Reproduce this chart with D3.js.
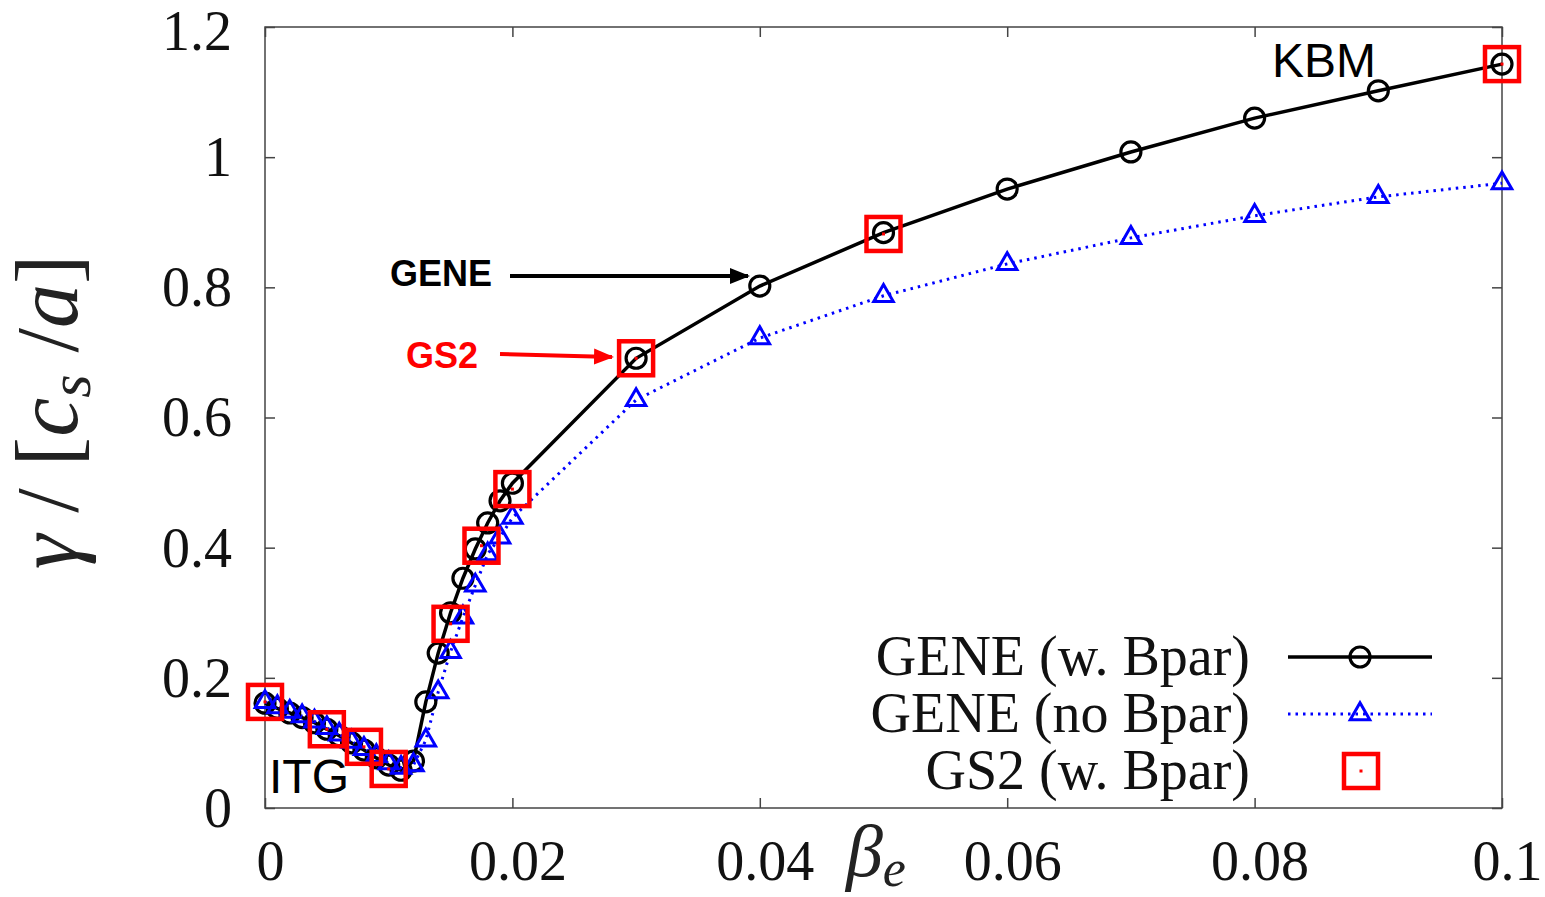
<!DOCTYPE html>
<html><head><meta charset="utf-8">
<script src="https://cdn.jsdelivr.net/npm/d3@7"></script>
<style>body{margin:0;background:#fff}svg{display:block}</style>
</head><body>
<script>
// ---- data ----
const betaGene = [0,0.001,0.002,0.003,0.004,0.005,0.006,0.007,0.008,0.009,0.010,0.011,0.012,0.013,0.014,0.015,0.016,0.017,0.018,0.019,0.020,0.03,0.04,0.05,0.06,0.07,0.08,0.09,0.1];
const gammaBpar = [0.161,0.153,0.146,0.139,0.131,0.121,0.111,0.100,0.089,0.077,0.066,0.058,0.072,0.163,0.238,0.300,0.353,0.398,0.438,0.472,0.499,0.691,0.802,0.884,0.951,1.008,1.060,1.102,1.143];
const gammaNoBpar = [0.163,0.155,0.148,0.141,0.133,0.123,0.113,0.102,0.091,0.080,0.069,0.062,0.066,0.104,0.178,0.240,0.293,0.342,0.390,0.416,0.446,0.627,0.722,0.787,0.836,0.876,0.910,0.939,0.960];
const betaGS2 = [0,0.005,0.008,0.010,0.015,0.0175,0.020,0.03,0.05,0.1];
const gammaGS2 = [0.163,0.121,0.094,0.060,0.283,0.403,0.490,0.691,0.882,1.143];
const xTicks = [0,0.02,0.04,0.06,0.08,0.1];
const xTickLabels = ["0","0.02","0.04","0.06","0.08","0.1"];
const yTicks = [0,0.2,0.4,0.6,0.8,1.0,1.2];
const yTickLabels = ["0","0.2","0.4","0.6","0.8","1","1.2"];
const legendLabels = ["GENE (w. Bpar)","GENE (no Bpar)","GS2 (w. Bpar)"];

const W=1545,H=897;
const L=265,R=1502,T=27,B=808;
const x=d3.scaleLinear().domain([0,0.1]).range([L,R]);
const y=d3.scaleLinear().domain([0,1.2]).range([B,T]);
const serif='"Liberation Serif","Times New Roman",serif';
const sans='"Liberation Sans",Arial,sans-serif';

const svg=d3.select("body").append("svg").attr("width",W).attr("height",H);
svg.append("defs").html(
 '<marker id="ab" viewBox="0 0 10 10" refX="9" refY="5" markerWidth="5" markerHeight="5" orient="auto"><path d="M0,1L10,5L0,9Z" fill="#000"/></marker>'+
 '<marker id="ar" viewBox="0 0 10 10" refX="9" refY="5" markerWidth="5" markerHeight="5" orient="auto"><path d="M0,1L10,5L0,9Z" fill="#f00"/></marker>');

// frame
svg.append("rect").attr("x",L).attr("y",T).attr("width",R-L).attr("height",B-T)
 .attr("fill","none").attr("stroke","#444").attr("stroke-width",1.5);

// axes (inward ticks, mirrored)
const gx=svg.append("g").attr("transform",`translate(0,${B})`)
 .call(d3.axisBottom(x).tickValues(xTicks).tickSize(-10).tickPadding(38).tickFormat((d,i)=>xTickLabels[i]));
const gx2=svg.append("g").attr("transform",`translate(0,${T})`)
 .call(d3.axisTop(x).tickValues(xTicks).tickSize(-10).tickFormat(""));
const gy=svg.append("g").attr("transform",`translate(${L},0)`)
 .call(d3.axisLeft(y).tickValues(yTicks).tickSize(-10).tickPadding(33).tickFormat((d,i)=>yTickLabels[i]));
const gy2=svg.append("g").attr("transform",`translate(${R},0)`)
 .call(d3.axisRight(y).tickValues(yTicks).tickSize(-10).tickFormat(""));
[gx,gx2,gy,gy2].forEach(g=>{g.select(".domain").remove();g.selectAll("line").attr("stroke","#444").attr("stroke-width",1.5);});
[gx,gy].forEach(g=>g.selectAll("text").attr("font-family",serif).attr("font-size",56).attr("fill","#111"));
gx.selectAll("text").attr("dy","0.6em").attr("dx",5);
gy.selectAll("text").attr("dy","0.33em");
gy.selectAll("text").filter(d=>d===1.2).attr("dy","0.4em");

// lines
const ptsB=betaGene.map((b,i)=>[b,gammaBpar[i]]);
const ptsN=betaGene.map((b,i)=>[b,gammaNoBpar[i]]);
const ptsG=betaGS2.map((b,i)=>[b,gammaGS2[i]]);
const line=d3.line().x(d=>x(d[0])).y(d=>y(d[1]));
svg.append("path").attr("d",line(ptsB)).attr("fill","none").attr("stroke","#000").attr("stroke-width",3.5);
svg.append("path").attr("d",line(ptsN)).attr("fill","none").attr("stroke","#0000ff").attr("stroke-width",3).attr("stroke-dasharray","2.5,5");

const tri=d3.symbol().type(d3.symbolTriangle).size(165);
function circ(g,cx,cy){g.append("circle").attr("cx",cx).attr("cy",cy).attr("r",10).attr("fill","none").attr("stroke","#000").attr("stroke-width",3.2);}
function triM(g,cx,cy){g.append("path").attr("d",tri()).attr("transform",`translate(${cx},${cy})`).attr("fill","none").attr("stroke","#0000ff").attr("stroke-width",3);}
function sq(g,cx,cy){g.append("rect").attr("x",cx-17).attr("y",cy-17).attr("width",34).attr("height",34).attr("fill","none").attr("stroke","#f00").attr("stroke-width",4.5);
 g.append("rect").attr("x",cx-1.5).attr("y",cy-1.5).attr("width",3).attr("height",3).attr("fill","#f00");}

const gm=svg.append("g");
ptsB.forEach(d=>circ(gm,x(d[0]),y(d[1])));
ptsN.forEach(d=>triM(gm,x(d[0]),y(d[1])));
ptsG.forEach(d=>sq(gm,x(d[0]),y(d[1])));

// legend
const lg=svg.append("g");
const rows=[657,714,771];
legendLabels.forEach((t,i)=>{
 lg.append("text").attr("x",1250).attr("y",rows[i]).attr("dy","0.33em").attr("text-anchor","end")
  .attr("font-family",serif).attr("font-size",56).attr("fill","#111").text(t);
});
lg.append("line").attr("x1",1288).attr("x2",1432).attr("y1",rows[0]).attr("y2",rows[0]).attr("stroke","#000").attr("stroke-width",3.5);
circ(lg,1360,rows[0]);
lg.append("line").attr("x1",1288).attr("x2",1432).attr("y1",rows[1]).attr("y2",rows[1]).attr("stroke","#0000ff").attr("stroke-width",3).attr("stroke-dasharray","2.5,5");
triM(lg,1360,rows[1]);
sq(lg,1361,rows[2]);

// annotations
svg.append("text").attr("x",390).attr("y",273).attr("dy","0.35em").attr("font-family",sans).attr("font-weight","bold").attr("font-size",36).text("GENE");
svg.append("line").attr("x1",510).attr("y1",276).attr("x2",748).attr("y2",276).attr("stroke","#000").attr("stroke-width",4).attr("marker-end","url(#ab)");
svg.append("text").attr("x",406).attr("y",355).attr("dy","0.35em").attr("font-family",sans).attr("font-weight","bold").attr("font-size",36).attr("fill","#f00").text("GS2");
svg.append("line").attr("x1",500).attr("y1",354).attr("x2",612).attr("y2",357).attr("stroke","#f00").attr("stroke-width",4).attr("marker-end","url(#ar)");
svg.append("text").attr("x",1272).attr("y",60).attr("dy","0.35em").attr("font-family",sans).attr("font-size",48).text("KBM");
svg.append("text").attr("x",269).attr("y",776).attr("dy","0.35em").attr("font-family",sans).attr("font-size",48).text("ITG");

// axis titles
const xl=svg.append("text").attr("x",846).attr("y",876).attr("font-family",serif).attr("font-size",74).attr("fill","#222");
xl.append("tspan").attr("font-style","italic").text("β");
xl.append("tspan").attr("font-style","italic").attr("font-size",52).attr("dy",10).text("e");

const yl=svg.append("text").attr("transform","translate(77,412) rotate(-90)").attr("text-anchor","middle")
 .attr("font-family",serif).attr("font-size",88).attr("fill","#222");
yl.append("tspan").attr("font-style","italic").text("γ");
yl.append("tspan").text(" / [");
yl.append("tspan").attr("font-style","italic").text("c");
yl.append("tspan").attr("font-style","italic").attr("font-size",60).attr("dy",13).text("s");
yl.append("tspan").attr("dy",-13).text(" /");
yl.append("tspan").attr("font-style","italic").text("a");
yl.append("tspan").text("]");
</script>
</body></html>
